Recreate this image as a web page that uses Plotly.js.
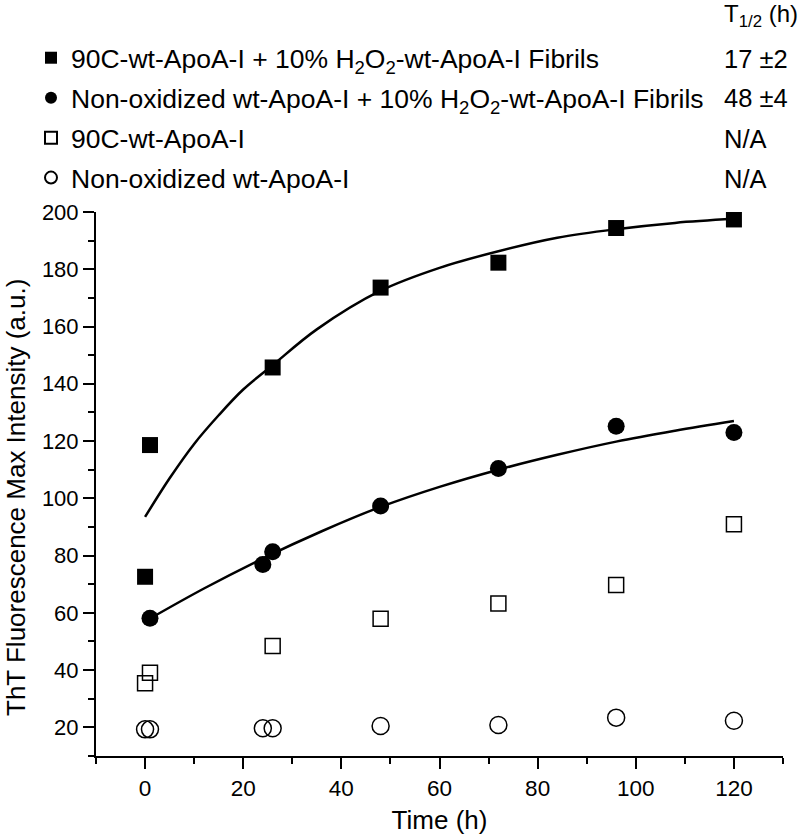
<!DOCTYPE html>
<html>
<head>
<meta charset="utf-8">
<script src="https://cdn.plot.ly/plotly-3.0.1.min.js"></script>
<style>html,body{margin:0;padding:0;background:#fff;}#chart{width:800px;height:840px;}</style>
</head>
<body>
<div id="chart"></div>
<script>
// Series names
const seriesNames = [
  "90C-wt-ApoA-I + 10% H<sub>2</sub>O<sub>2</sub>-wt-ApoA-I Fibrils",
  "Non-oxidized wt-ApoA-I + 10% H<sub>2</sub>O<sub>2</sub>-wt-ApoA-I Fibrils",
  "90C-wt-ApoA-I",
  "Non-oxidized wt-ApoA-I"
];
const halfLives = ["17 ±2", "48 ±4", "N/A", "N/A"];

// Filled squares
const sqTime = [0, 1, 26, 48, 72, 96, 120];
const sqVal  = [72.6, 118.6, 145.7, 173.6, 182.3, 194.4, 197.4];
// Filled circles
const ciTime = [1, 24, 26, 48, 72, 96, 120];
const ciVal  = [58.1, 76.9, 81.3, 97.3, 110.4, 125.2, 123.0];
// Open squares
const osqTime = [0, 1, 26, 48, 72, 96, 120];
const osqVal  = [35.4, 39.1, 48.4, 57.9, 63.3, 69.7, 90.9];
// Open circles
const ociTime = [0, 1, 24, 26, 48, 72, 96, 120];
const ociVal  = [19.3, 19.3, 19.7, 19.7, 20.5, 20.8, 23.4, 22.3];

// Fit curves
const fit1Time = [0, 5, 10, 15, 20, 26, 35, 48, 60, 72, 84, 96, 108, 120];
const fit1Val  = [93.5, 107, 119, 129, 138, 146.5, 159, 172.5, 180.5, 186.3, 191, 194, 196.2, 197.6];
const fit2Time = [1, 12, 24, 36, 48, 60, 72, 84, 96, 108, 120];
const fit2Val  = [58, 68.5, 79, 88.5, 97, 104, 110, 115.2, 119.8, 123.6, 127];

const FONT = "Liberation Sans, Arial, sans-serif";

const traces = [
  {x: fit1Time, y: fit1Val, mode: 'lines', line: {color: '#000', width: 2.5, shape: 'spline'}, showlegend: false, hoverinfo: 'skip'},
  {x: fit2Time, y: fit2Val, mode: 'lines', line: {color: '#000', width: 2.5, shape: 'spline'}, showlegend: false, hoverinfo: 'skip'},
  {x: sqTime, y: sqVal, mode: 'markers', name: seriesNames[0], legendgroup: 'a',
   marker: {symbol: 'square', size: 16, color: '#000'}},
  {x: ciTime, y: ciVal, mode: 'markers', name: seriesNames[1], legendgroup: 'b',
   marker: {symbol: 'circle', size: 17, color: '#000'}},
  {x: osqTime, y: osqVal, mode: 'markers', name: seriesNames[2], legendgroup: 'c',
   marker: {symbol: 'square-open', size: 15, color: '#000', line: {width: 1.5}}},
  {x: ociTime, y: ociVal, mode: 'markers', name: seriesNames[3], legendgroup: 'd',
   marker: {symbol: 'circle-open', size: 17, color: '#000', line: {width: 1.5}}}
];

const L = 96, R = 17, T = 212, B = 84;
const W = 800 - L - R, H = 840 - T - B;
function px2x(p){ return (p - L) / W; }
function py2y(p){ return 1 + (T - p) / H; }

const rowY = [59, 98, 139, 178.5];
const annotations = [
  {text: "T<sub>1/2</sub> (h)", x: px2x(722), y: py2y(15), xref: 'paper', yref: 'paper',
   xanchor: 'left', yanchor: 'middle', showarrow: false, font: {family: FONT, size: 24, color: '#000'}},
  {text: 'ThT Fluorescence Max Intensity (a.u.)', textangle: -90, x: px2x(16), y: py2y(498),
   xref: 'paper', yref: 'paper', xanchor: 'center', yanchor: 'middle', showarrow: false,
   font: {family: FONT, size: 26, color: '#000'}}
];
halfLives.forEach((t, i) => {
  annotations.push({text: t, x: px2x(722), y: py2y(rowY[i]), xref: 'paper', yref: 'paper',
    xanchor: 'left', yanchor: 'middle', showarrow: false, font: {family: FONT, size: 25.5, color: '#000'}});
});

const layout = {
  width: 800, height: 840,
  margin: {l: L, r: R, t: T, b: B},
  paper_bgcolor: '#fff', plot_bgcolor: '#fff',
  font: {family: FONT, color: '#000'},
  showlegend: true,
  legend: {
    x: px2x(31), y: py2y(34), xanchor: 'left', yanchor: 'top',
    font: {family: FONT, size: 26.5, color: '#000'},
    bgcolor: 'rgba(0,0,0,0)', borderwidth: 0,
    itemsizing: 'constant', traceorder: 'grouped', tracegroupgap: 2.5
  },
  xaxis: {
    range: [-10, 130], showgrid: false, zeroline: false,
    showline: true, linecolor: '#000', linewidth: 2,
    ticks: 'outside', ticklen: 11, tickwidth: 2, tickcolor: '#000',
    tick0: 0, dtick: 20,
    tickfont: {family: FONT, size: 22.5, color: '#000'},
    minor: {dtick: 10, ticks: 'outside', ticklen: 6, tickwidth: 2, tickcolor: '#000', showgrid: false},
    title: {text: 'Time (h)', font: {family: FONT, size: 26, color: '#000'}, standoff: 11}
  },
  yaxis: {
    range: [10, 200], showgrid: false, zeroline: false,
    showline: true, linecolor: '#000', linewidth: 2,
    ticks: 'outside', ticklen: 11, tickwidth: 2, tickcolor: '#000',
    tick0: 0, dtick: 20,
    tickfont: {family: FONT, size: 22, color: '#000'},
    minor: {dtick: 10, ticks: 'outside', ticklen: 6, tickwidth: 2, tickcolor: '#000', showgrid: false}
  },
  annotations: annotations
};

Plotly.newPlot('chart', traces, layout, {displayModeBar: false, staticPlot: true});
</script>
</body>
</html>
